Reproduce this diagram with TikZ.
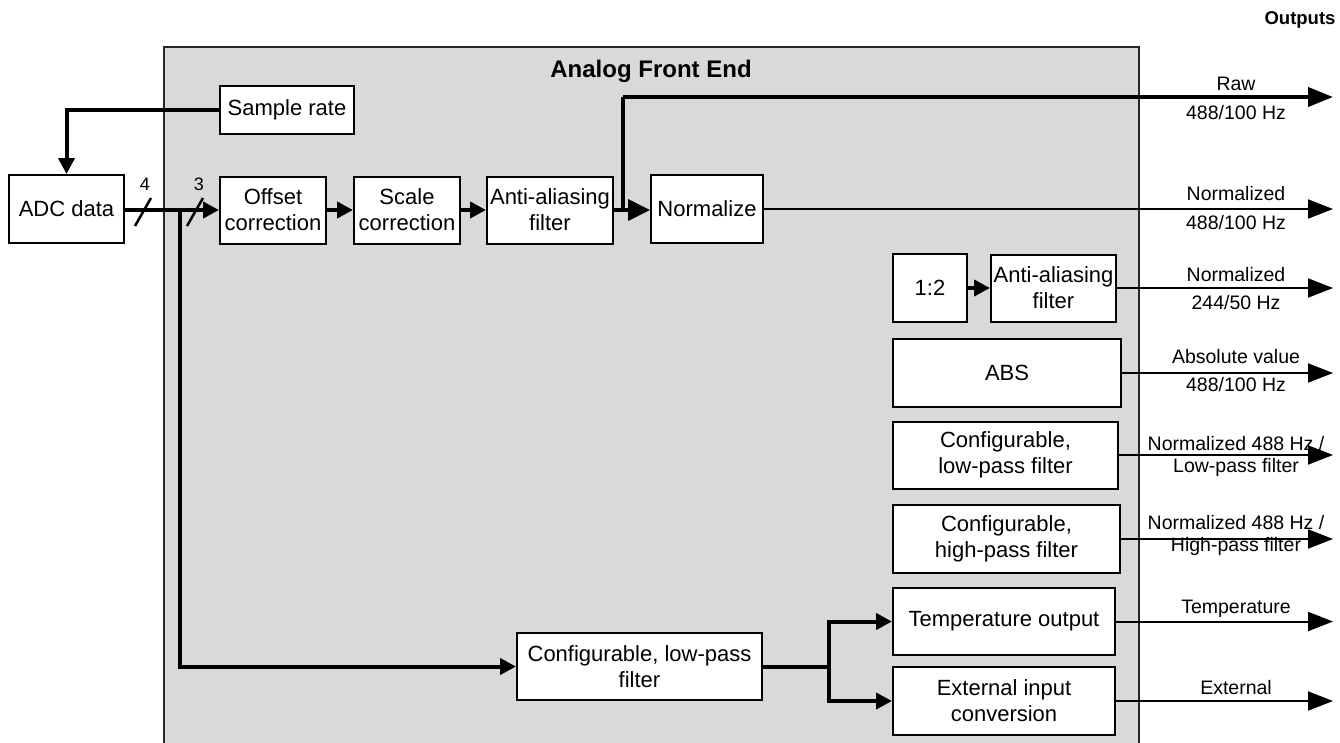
\documentclass[tikz,border=0pt]{standalone}
\usepackage{fontspec}
\setmainfont{Liberation Sans}
\usetikzlibrary{arrows.meta}
\definecolor{afegray}{HTML}{D9D9D9}
\tikzset{
  blk/.style={draw=black, line width=2pt, fill=white, align=center, inner sep=0pt,
              font=\fontsize{22}{26}\selectfont},
  heavy/.style={line width=4pt, -{Triangle[length=16pt,width=16pt]}},
  heavyline/.style={line width=4pt},
  outline/.style={line width=2pt, -{Triangle[length=25pt,width=19pt]}},
  olabel/.style={font=\fontsize{19.5}{22}\selectfont, align=center, inner sep=0pt},
  slashmark/.style={line width=2.5pt},
  buslabel/.style={font=\fontsize{18}{20}\selectfont, inner sep=0pt}
}
\begin{document}
\begin{tikzpicture}[x=1pt, y=-1pt]
\useasboundingbox (0,0) rectangle (1340,742);
\clip (0,0) rectangle (1340,742);

% Analog front end enclosure
\path[fill=afegray, draw=black!85, line width=2pt] (164,47) rectangle (1139,780);
\node[font=\bfseries\fontsize{24}{28}\selectfont] (afe) at (651,71) {Analog Front End};
\node[font=\bfseries\fontsize{18.5}{22}\selectfont] (outs) at (1300,20) {Outputs};

% Blocks
\node[blk, minimum width=115pt, minimum height=68pt] (adc) at (66.5,209) {ADC data};
\node[blk, minimum width=134pt, minimum height=48pt] (sr)  at (287,110) {Sample rate};
\node[blk, minimum width=106pt, minimum height=67pt] (off) at (273,210) {Offset\\correction};
\node[blk, minimum width=106pt, minimum height=67pt] (scl) at (407,210) {Scale\\correction};
\node[blk, minimum width=126pt, minimum height=67pt] (aa1) at (550,210) {Anti-aliasing\\filter};
\node[blk, minimum width=112pt, minimum height=68pt] (nrm) at (707,209) {Normalize};
\node[blk, minimum width=74pt,  minimum height=68pt] (div) at (930,288) {1:2};
\node[blk, minimum width=125pt, minimum height=67pt] (aa2) at (1053.5,288) {Anti-aliasing\\filter};
\node[blk, minimum width=228pt, minimum height=68pt] (abs) at (1007,373) {ABS};
\node[blk, minimum width=225pt, minimum height=67pt] (lpf) at (1005.5,455) {Configurable,\\low-pass filter};
\node[blk, minimum width=227pt, minimum height=68pt] (hpf) at (1006.5,539) {Configurable,\\high-pass filter};
\node[blk, minimum width=222pt, minimum height=67pt] (tmp) at (1004,621.5) {Temperature output};
\node[blk, minimum width=222pt, minimum height=68pt] (ext) at (1004,701) {External input\\conversion};
\node[blk, minimum width=245pt, minimum height=67pt] (clp) at (639.5,666.5) {Configurable, low-pass\\filter};

% Routing points
\coordinate (oe) at (1333,0);
\coordinate (j1) at (180,0);
\coordinate (rawturn) at (623,97);
\coordinate (fork) at (829,0);

% Sample rate feedback to the converter
\draw[heavy] (sr.west) -| (adc.north);

% Main signal chain
\draw[heavy] (adc.east |- off.west) -- (off.west);
\draw[heavy] (off.east) -- (scl.west);
\draw[heavy] (scl.east) -- (aa1.west);
\draw[line width=4pt, -{Triangle[length=22pt,width=21pt]}] (aa1.east) -- (aa1.east -| nrm.west);
\draw[heavy] (div.east) -- (div.east -| aa2.west);

% Raw tap
\draw[heavyline] (aa1.east -| rawturn) -- (rawturn);
\draw[line width=4pt, -{Triangle[length=25pt,width=19pt]}] (rawturn) -- (rawturn -| oe);

% Bus width marks
\draw[slashmark] (135,226) -- (151,198);
\draw[slashmark] (187,226) -- (203,198);
\node[buslabel] (b4) at (145,184) {4};
\node[buslabel] (b3) at (199,184) {3};

% Side branch to the low-pass filter
\draw[heavy] (j1 |- off.west) |- (clp.west);
\draw[heavyline] (clp.east) -- (clp.east -| fork);
\draw[heavy] (clp.east -| fork) |- (tmp.west);
\draw[heavy] (clp.east -| fork) |- (ext.west);

% Outputs
\draw[outline] (nrm.east) -- (nrm.east -| oe);
\draw[outline] (aa2.east) -- (aa2.east -| oe);
\draw[outline] (abs.east) -- (abs.east -| oe);
\draw[outline] (lpf.east) -- (lpf.east -| oe);
\draw[outline] (hpf.east) -- (hpf.east -| oe);
\draw[outline] (tmp.east) -- (tmp.east -| oe);
\draw[outline] (ext.east) -- (ext.east -| oe);

% Output labels
\node[olabel] (l1a) at (1236,84)  {Raw};
\node[olabel] (l1b) at (1236,113) {488/100 Hz};
\node[olabel] (l2a) at (1236,194) {Normalized};
\node[olabel] (l2b) at (1236,223) {488/100 Hz};
\node[olabel] (l3a) at (1236,275) {Normalized};
\node[olabel] (l3b) at (1236,303) {244/50 Hz};
\node[olabel] (l4a) at (1236,357) {Absolute value};
\node[olabel] (l4b) at (1236,385) {488/100 Hz};
\node[olabel] (l5)  at (1236,456) {Normalized 488 Hz /\\Low-pass filter};
\node[olabel] (l6)  at (1236,535) {Normalized 488 Hz /\\High-pass filter};
\node[olabel] (l7)  at (1236,609) {Temperature};
\node[olabel] (l8)  at (1236,688) {External};
\end{tikzpicture}
\end{document}
